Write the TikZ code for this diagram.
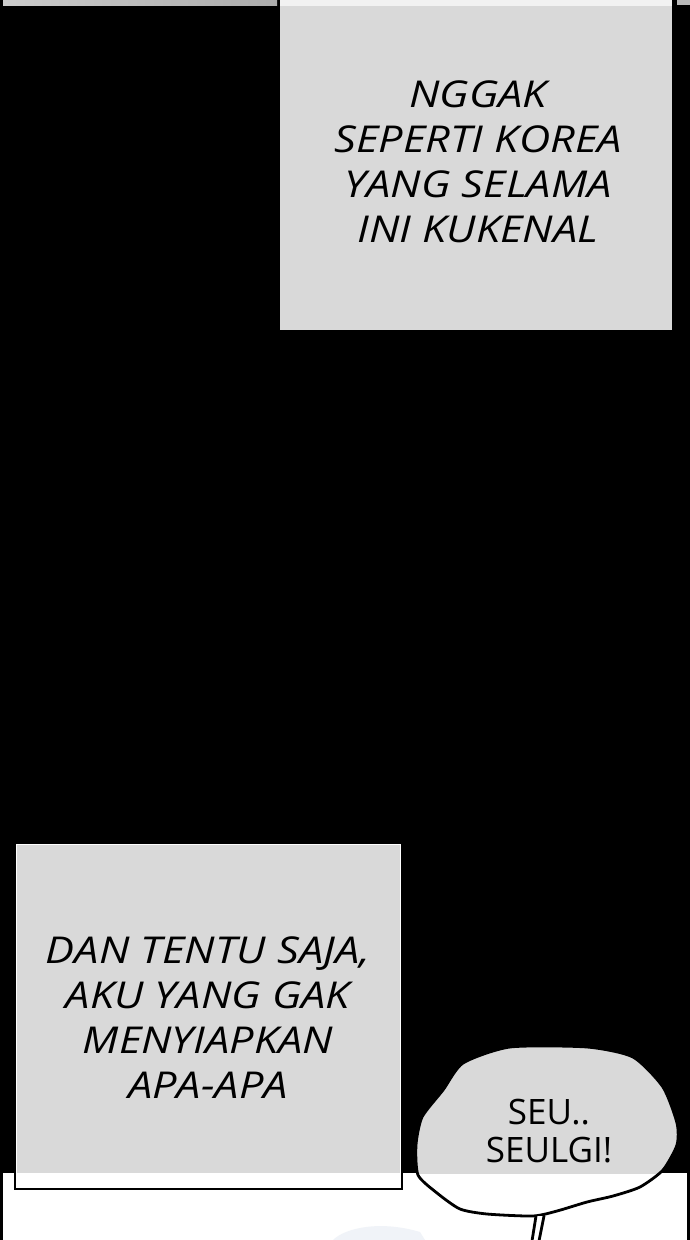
\documentclass[tikz,border=0pt]{standalone}
\usepackage{fontspec}
\setmainfont{Open Sans}
\newfontfamily\capfont[FakeStretch=1.17]{Open Sans}
\begin{document}
\begin{tikzpicture}[x=1pt,y=-1pt,
  caption/.style={inner sep=0pt,align=center,text=black,font=\capfont\itshape\fontsize{37}{45}\selectfont},
  speech/.style={inner sep=0pt,align=center,text=black,font=\fontsize{35}{38}\selectfont},
  outline/.style={draw=black,line width=2.8pt,line join=round,line cap=round}]
\definecolor{boxgray}{HTML}{D9D9D9}
\definecolor{paleblue}{HTML}{F0F3F8}
\useasboundingbox (0,0) rectangle (690,1240);
% background
\fill[black] (0,0) rectangle (690,1240);
\fill[white] (3,1173) rectangle (687,1240);
% top strips
\shade[left color=gray!40,right color=gray!65] (3,0) rectangle (277,5);
\fill[gray!55] (677,0) rectangle (690,5);
% top right caption box
\fill[boxgray] (280,0) rectangle (672,330);
\fill[gray!10] (280,0) rectangle (672,6);
\node[caption,anchor=north] (t1) at (478,81) {NGGAK\\SEPERTI KOREA\\YANG SELAMA\\INI KUKENAL};
% lower left caption box
\draw[outline,fill=white,line join=miter] (15,843) rectangle (402,1189);
\fill[boxgray] (17,845) rectangle (400,1173);
\node[caption,anchor=north] (t2) at (208,936) {DAN TENTU SAJA,\\AKU YANG GAK\\MENYIAPKAN\\APA-APA};
% faint shape at bottom
\fill[paleblue] (333,1240) .. controls (345,1228) and (380,1220) .. (420,1232) -- (425,1240) -- cycle;
% speech bubble
\def\bubblepath{plot[smooth cycle,tension=0.4] coordinates {(416,1145) (422,1117) (443,1090) (463,1063) (510,1047) (587,1047) (633,1057) (663,1087) (677,1123) (677,1145) (663,1170) (640,1187) (613,1196) (587,1202) (557,1211) (533,1216) (487,1214) (460,1209) (437,1193) (418,1175)}}
\fill[white] \bubblepath;
\begin{scope}
\clip (0,0) rectangle (690,1173);
\fill[boxgray] \bubblepath;
\end{scope}
\draw[outline] \bubblepath;
% stem
\coordinate (s1) at (536,1216);
\coordinate (s2) at (544,1216);
\coordinate (e1) at (532,1241);
\coordinate (e2) at (539,1241);
\fill[white] (s1) -- (s2) -- (e2) -- (e1) -- cycle;
\draw[outline] (s1) -- (e1);
\draw[outline] (s2) -- (e2);
\node[speech,anchor=north] (b1) at (549,1099) {SEU..\\SEULGI!};
\end{tikzpicture}
\end{document}
